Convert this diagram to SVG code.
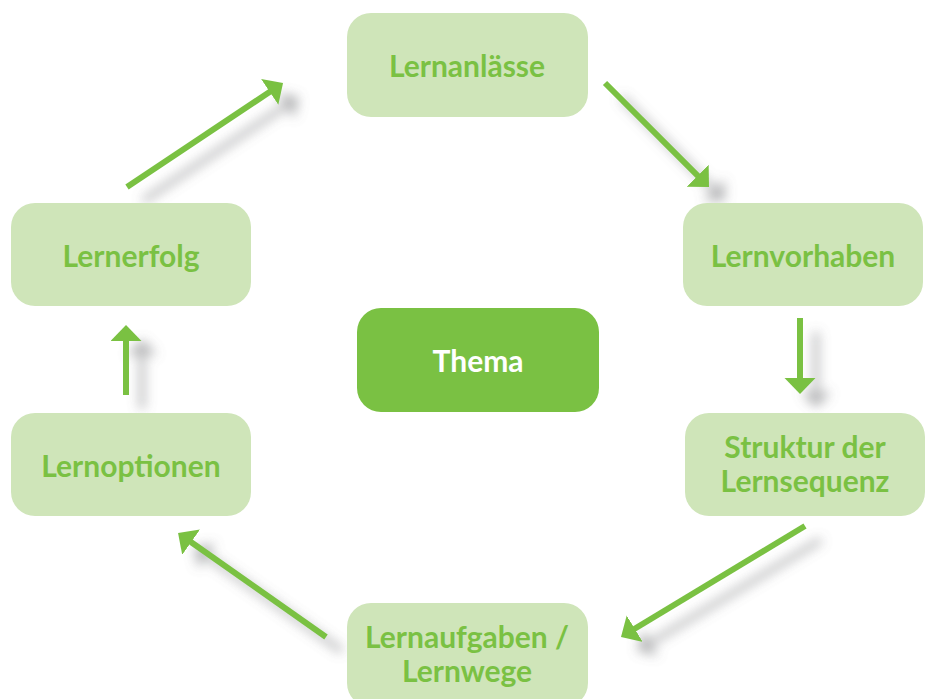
<svg xmlns="http://www.w3.org/2000/svg" width="928" height="699" viewBox="0 0 928 699">
<style>
.box{fill:#CFE5B9;}
.main{fill:#7AC143;}
.lbl{font-family:Lato,"Open Sans",sans-serif;font-weight:700;font-size:30px;fill:#7AC143;text-anchor:middle;}
.lblw{fill:#FFFFFF;}
.arr{stroke:#7AC143;stroke-width:6;fill:none;marker-end:url(#ah);}
</style>
<defs>
<marker id="ah" markerUnits="userSpaceOnUse" markerWidth="18" markerHeight="32" refX="2" refY="15.5" orient="auto" viewBox="0 0 18 32">
<path d="M0,0 L16,15.5 L0,31 z" fill="#7AC143"/>
</marker>
<filter id="ds" filterUnits="userSpaceOnUse" x="0" y="0" width="928" height="699">
<feGaussianBlur in="SourceAlpha" stdDeviation="6"/>
<feOffset dx="16" dy="14" result="b"/>
<feFlood flood-color="#6d6e71" flood-opacity="0.5"/>
<feComposite in2="b" operator="in"/>
<feMerge><feMergeNode/><feMergeNode in="SourceGraphic"/></feMerge>
</filter>
</defs>
<rect width="928" height="699" fill="#FFFFFF"/>
<g id="connectors" filter="url(#ds)">
<line class="arr" x1="127" y1="187" x2="271.4" y2="90.8"/>
<line class="arr" x1="605" y1="83" x2="699.1" y2="177.1"/>
<line class="arr" x1="800" y1="318" x2="800" y2="380"/>
<line class="arr" x1="805" y1="526" x2="633" y2="629.8"/>
<line class="arr" x1="326" y1="637" x2="189.5" y2="541"/>
<line class="arr" x1="126" y1="395" x2="126" y2="339"/>
</g>
<g id="lernanlaesse">
<rect class="box" x="347" y="13" width="241" height="104" rx="24"/>
<text class="lbl" x="467" y="77">Lernanlässe</text>
</g>
<g id="lernvorhaben">
<rect class="box" x="683" y="203" width="240" height="103" rx="24"/>
<text class="lbl" x="803" y="267">Lernvorhaben</text>
</g>
<g id="struktur">
<rect class="box" x="685" y="413" width="240" height="103" rx="24"/>
<text class="lbl" x="805" y="458">Struktur der</text>
<text class="lbl" x="805" y="492">Lernsequenz</text>
</g>
<g id="lernaufgaben">
<rect class="box" x="347" y="603" width="241" height="104" rx="24"/>
<text class="lbl" x="467" y="648">Lernaufgaben /</text>
<text class="lbl" x="467" y="682">Lernwege</text>
</g>
<g id="lernoptionen">
<rect class="box" x="11" y="413" width="240" height="103" rx="24"/>
<text class="lbl" x="131" y="477">Lernoptionen</text>
</g>
<g id="lernerfolg">
<rect class="box" x="11" y="203" width="240" height="103" rx="24"/>
<text class="lbl" x="131" y="267">Lernerfolg</text>
</g>
<g id="thema">
<rect class="main" x="357" y="308" width="242" height="104" rx="24"/>
<text class="lbl lblw" x="478" y="372">Thema</text>
</g>
</svg>
